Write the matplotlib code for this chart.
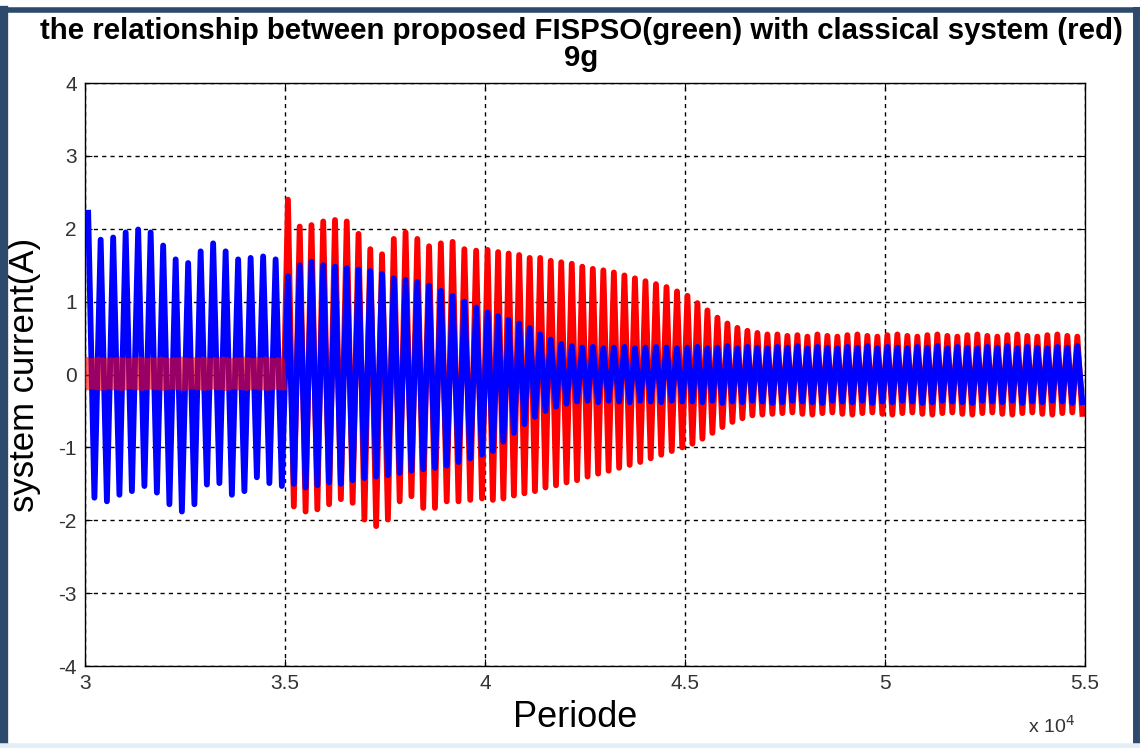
import numpy as np
import matplotlib.pyplot as plt
from matplotlib.lines import Line2D

plt.rcParams['font.family'] = ['Liberation Sans', 'DejaVu Sans']
plt.rcParams['axes.unicode_minus'] = False

# x ticks (Periode, shown in units of 1e4)
x_ticks = [30000, 35000, 40000, 45000, 50000, 55000]
x_tick_labels = ['3', '3.5', '4', '4.5', '5', '5.5']
y_ticks = [-4, -3, -2, -1, 0, 1, 2, 3, 4]

# peak values per oscillation cycle
# segment 0: 30000-35000 (classical system still idle)
seg0 = (30000, 35000)
blue_hi_0 = [2.22, 1.85, 1.88, 1.95, 1.99, 1.95, 1.77, 1.58, 1.53, 1.69, 1.80, 1.69, 1.58, 1.60, 1.62, 1.58]
blue_lo_0 = [-1.69, -1.74, -1.65, -1.60, -1.53, -1.62, -1.78, -1.88, -1.78, -1.51, -1.49, -1.65, -1.60, -1.41, -1.49, -1.53]
red_hi_0 = [0.20, 0.19, 0.20, 0.21, 0.20, 0.19, 0.20, 0.20, 0.21, 0.20, 0.19, 0.20, 0.20, 0.21, 0.20, 0.19,
            0.20, 0.20, 0.21, 0.20, 0.19, 0.20, 0.20, 0.21, 0.20, 0.19, 0.20, 0.20, 0.21, 0.20, 0.19, 0.20,
            0.20, 0.21, 0.20, 0.19, 0.20, 0.20, 0.21, 0.20, 0.19, 0.20, 0.20, 0.21, 0.20, 0.19, 0.20, 0.20]
red_lo_0 = [-0.18, -0.17, -0.18, -0.19, -0.18, -0.17, -0.18, -0.18, -0.19, -0.18, -0.17, -0.18, -0.18, -0.19, -0.18, -0.17,
            -0.18, -0.18, -0.19, -0.18, -0.17, -0.18, -0.18, -0.19, -0.18, -0.17, -0.18, -0.18, -0.19, -0.18, -0.17, -0.18,
            -0.18, -0.19, -0.18, -0.17, -0.18, -0.18, -0.19, -0.18, -0.17, -0.18, -0.18, -0.19, -0.18, -0.17, -0.18, -0.18]

# segment 1: 35000-40000
seg1 = (35000, 40000)
red_hi_1 = [2.40, 2.03, 2.05, 2.10, 2.12, 2.10, 1.93, 1.72, 1.65, 1.86, 1.95, 1.86, 1.76, 1.80, 1.82, 1.72, 1.70]
red_lo_1 = [-1.81, -1.88, -1.85, -1.78, -1.71, -1.76, -1.99, -2.08, -1.99, -1.74, -1.67, -1.83, -1.83, -1.74, -1.74, -1.72, -1.70]
blue_hi_1 = [1.35, 1.50, 1.55, 1.50, 1.48, 1.46, 1.44, 1.42, 1.38, 1.32, 1.30, 1.27, 1.22, 1.15, 1.08, 1.00, 0.92]
blue_lo_1 = [-1.50, -1.55, -1.52, -1.48, -1.50, -1.45, -1.42, -1.40, -1.38, -1.35, -1.32, -1.30, -1.28, -1.25, -1.20, -1.15, -1.10]

# segment 2: 40000-45000
seg2 = (40000, 45000)
red_hi_2 = [1.71, 1.68, 1.66, 1.64, 1.60, 1.60, 1.56, 1.54, 1.52, 1.48, 1.45, 1.43, 1.40, 1.36, 1.32, 1.28, 1.24, 1.20, 1.14]
red_lo_2 = [-1.72, -1.70, -1.66, -1.63, -1.60, -1.55, -1.52, -1.48, -1.45, -1.40, -1.36, -1.32, -1.28, -1.24, -1.20, -1.15, -1.10, -1.05, -1.00]
blue_hi_2 = [0.85, 0.80, 0.75, 0.70, 0.64, 0.55, 0.48, 0.42, 0.39, 0.37, 0.38, 0.36, 0.37, 0.38, 0.36, 0.37, 0.38, 0.37, 0.36]
blue_lo_2 = [-1.05, -0.92, -0.80, -0.68, -0.58, -0.50, -0.44, -0.40, -0.37, -0.36, -0.38, -0.36, -0.37, -0.38, -0.36, -0.37, -0.38, -0.36, -0.37]

# segment 3: 45000-55000 (steady state)
seg3 = (45000, 55000)
red_hi_3 = [1.08, 0.98, 0.88, 0.78, 0.70, 0.64, 0.60, 0.57, 0.55, 0.55, 0.53, 0.54, 0.52, 0.55, 0.53, 0.52, 0.54, 0.55, 0.53, 0.52,
            0.54, 0.55, 0.53, 0.52, 0.54, 0.55, 0.53, 0.52, 0.54, 0.55, 0.53, 0.52, 0.54, 0.55, 0.53, 0.52, 0.54, 0.55, 0.53, 0.52]
red_lo_3 = [-0.95, -0.88, -0.80, -0.72, -0.65, -0.60, -0.56, -0.55, -0.54, -0.53, -0.52, -0.54, -0.55, -0.53, -0.52, -0.54, -0.55, -0.53, -0.52, -0.54,
            -0.55, -0.53, -0.52, -0.54, -0.55, -0.53, -0.52, -0.54, -0.55, -0.53, -0.52, -0.54, -0.55, -0.53, -0.52, -0.54, -0.55, -0.53, -0.52, -0.54]
blue_hi_3 = [0.37, 0.38, 0.36, 0.37, 0.39, 0.36, 0.38, 0.37, 0.36, 0.38, 0.37, 0.39, 0.36, 0.38, 0.37, 0.36, 0.38, 0.37, 0.39, 0.36,
             0.38, 0.37, 0.36, 0.38, 0.37, 0.39, 0.36, 0.38, 0.37, 0.36, 0.38, 0.37, 0.39, 0.36, 0.38, 0.37, 0.36, 0.38, 0.37, 0.39]
blue_lo_3 = [-0.37, -0.38, -0.36, -0.39, -0.37, -0.38, -0.36, -0.37, -0.39, -0.38, -0.36, -0.37, -0.38, -0.39, -0.36, -0.37, -0.38, -0.36, -0.39, -0.37,
             -0.38, -0.36, -0.37, -0.39, -0.38, -0.36, -0.37, -0.38, -0.39, -0.36, -0.37, -0.38, -0.36, -0.39, -0.37, -0.38, -0.36, -0.37, -0.39, -0.38]


def cycles(span, hi, lo):
    # one max and one min per cycle, cycles evenly spread over the span
    n = len(hi)
    starts = np.linspace(span[0], span[1], n, endpoint=False)
    p = (span[1] - span[0]) / n
    t = np.column_stack([starts + 0.25 * p, starts + 0.75 * p]).ravel()
    y = np.column_stack([hi, lo]).ravel()
    return t, y


t_b = []
y_b = []
for span, hi, lo in [(seg0, blue_hi_0, blue_lo_0), (seg1, blue_hi_1, blue_lo_1),
                     (seg2, blue_hi_2, blue_lo_2), (seg3, blue_hi_3, blue_lo_3)]:
    t, y = cycles(span, hi, lo)
    t_b.append(t)
    y_b.append(y)
t_b = np.concatenate(t_b)
y_b = np.concatenate(y_b)

t_r0, y_r0 = cycles(seg0, red_hi_0, red_lo_0)
t_r = []
y_r = []
for span, hi, lo in [(seg1, red_hi_1, red_lo_1), (seg2, red_hi_2, red_lo_2), (seg3, red_hi_3, red_lo_3)]:
    t, y = cycles(span, hi, lo)
    t_r.append(t)
    y_r.append(y)
t_r = np.concatenate([[t_r0[-1]], *t_r])
y_r = np.concatenate([[y_r0[-1]], *y_r])

fig = plt.figure(figsize=(11.4, 7.48), dpi=100)
ax = fig.add_axes([0.0746, 0.1096, 0.877, 0.7794])

ax.plot(t_r, y_r, color='red', lw=4.2, zorder=2)
ax.plot(t_b, y_b, color='blue', lw=4.2, zorder=3)
ax.plot(t_r0, y_r0, color='red', lw=4.0, alpha=0.6, zorder=4)

ax.set_xlim(30000, 55000)
ax.set_ylim(-4, 4)
ax.set_xticks(x_ticks)
ax.set_xticklabels(x_tick_labels)
ax.set_yticks(y_ticks)
ax.grid(True, color='black', linestyle=(0, (3, 3)), linewidth=1)
ax.tick_params(direction='in', top=True, right=True, length=5, labelsize=15,
               labelcolor='#333333', pad=6)
for s in ax.spines.values():
    s.set_linewidth(1)

ax.set_title('the relationship between proposed FISPSO(green) with classical system (red)\n9g',
             fontsize=21.2, fontweight='bold', pad=12, linespacing=0.95, x=0.4965)
ax.set_xlabel('Periode', fontsize=26, labelpad=6)
ax.xaxis.set_label_coords(0.49, -0.058)
ax.set_ylabel('system current(A)', fontsize=25)
ax.yaxis.set_label_coords(-0.044, 0.5)
ax.text(0.99, -0.083, r'x 10$^{4}$', transform=ax.transAxes, ha='right', va='top',
        fontsize=14, color='#333333')

# dark frame round the picture
edge = '#2d4a6d'
fig.add_artist(Line2D([0.0035, 0.0035], [0, 0.987], transform=fig.transFigure, color=edge, lw=6))
fig.add_artist(Line2D([0, 1], [0.987, 0.987], transform=fig.transFigure, color=edge, lw=4))
fig.add_artist(Line2D([0.9965, 0.9965], [0, 0.987], transform=fig.transFigure, color=edge, lw=5))
fig.add_artist(Line2D([0, 1], [0.003, 0.003], transform=fig.transFigure, color='#e3eef7', lw=4))

fig.savefig('out.png', dpi=100)
